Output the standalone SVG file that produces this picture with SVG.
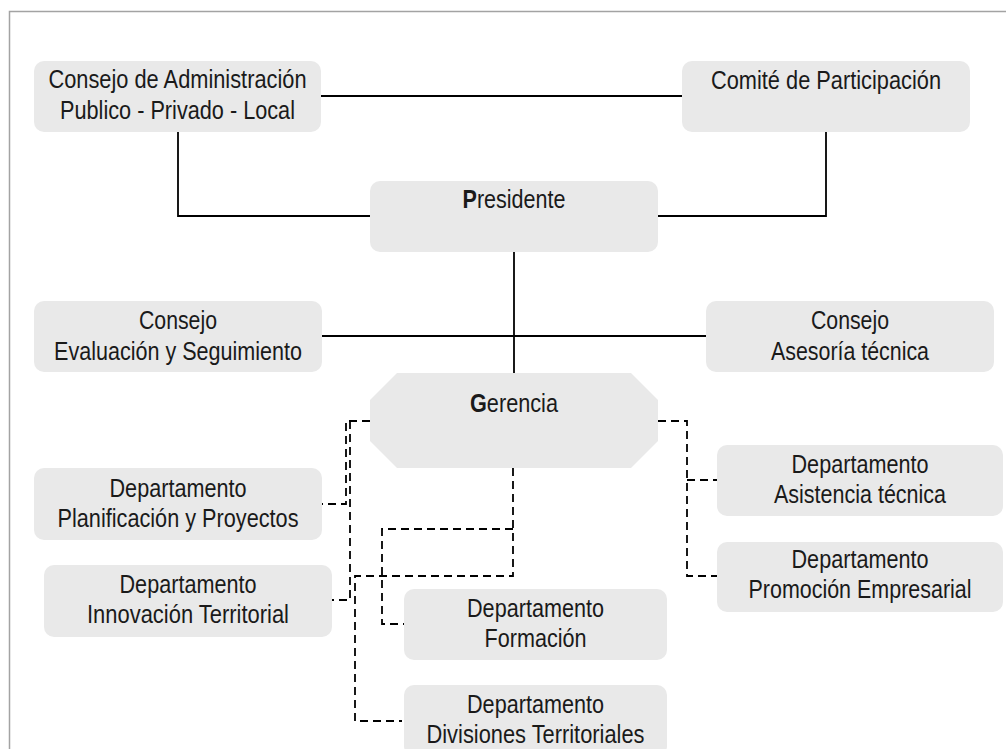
<svg xmlns="http://www.w3.org/2000/svg" width="1006" height="749" viewBox="0 0 1006 749">
<style>
.box{fill:#e9e9e9;}
.t{font-family:"Liberation Sans Narrow","Arial Narrow","Liberation Sans",Arial,sans-serif;font-size:25px;fill:#1a1a1a;text-anchor:middle;}
.b{font-weight:bold;}
.solid{fill:none;stroke:#000;stroke-width:1.8;}
.dash{fill:none;stroke:#000;stroke-width:1.8;stroke-dasharray:8,5;}
</style>
<rect width="1006" height="749" fill="#fff"/>
<path d="M9.5,749 V11.5 H1006" fill="none" stroke="#a3a3a3" stroke-width="1.5"/>
<g id="connectors">
<path class="solid" d="M321,96 H682"/>
<path class="solid" d="M178,132 V216 H370"/>
<path class="solid" d="M826,132 V216 H658"/>
<path class="solid" d="M514,252 V373"/>
<path class="solid" d="M322,336 H706"/>
<path class="dash" d="M370,421 H346 V504 H322"/>
<path class="dash" d="M350,421 V600 H332"/>
<path class="dash" d="M513,468 V576 H355 V721 H402"/>
<path class="dash" d="M513,529 H382 V624 H404"/>
<path class="dash" d="M658,421 H687 V576 H717"/>
<path class="dash" d="M687,480 H717"/>
</g>
<g id="consejo-admin">
<rect class="box" x="34" y="61" width="287" height="71" rx="10"/>
<text class="t" x="177.5" y="88" textLength="258" lengthAdjust="spacingAndGlyphs">Consejo de Administración</text>
<text class="t" x="177.5" y="119" textLength="235" lengthAdjust="spacingAndGlyphs">Publico - Privado - Local</text>
</g>
<g id="comite">
<rect class="box" x="682" y="61" width="288" height="71" rx="10"/>
<text class="t" x="826" y="89" textLength="230" lengthAdjust="spacingAndGlyphs">Comité de Participación</text>
</g>
<g id="presidente">
<rect class="box" x="370" y="181" width="288" height="71" rx="10"/>
<text class="t" x="514" y="208" textLength="103" lengthAdjust="spacingAndGlyphs"><tspan class="b">P</tspan>residente</text>
</g>
<g id="consejo-evaluacion">
<rect class="box" x="34" y="301" width="288" height="71" rx="10"/>
<text class="t" x="178" y="329" textLength="78" lengthAdjust="spacingAndGlyphs">Consejo</text>
<text class="t" x="178" y="360" textLength="248" lengthAdjust="spacingAndGlyphs">Evaluación y Seguimiento</text>
</g>
<g id="consejo-asesoria">
<rect class="box" x="706" y="301" width="288" height="71" rx="10"/>
<text class="t" x="850" y="329" textLength="78" lengthAdjust="spacingAndGlyphs">Consejo</text>
<text class="t" x="850" y="360" textLength="158" lengthAdjust="spacingAndGlyphs">Asesoría técnica</text>
</g>
<g id="gerencia">
<polygon class="box" points="397,373 631,373 658,400 658,441 631,468 397,468 370,441 370,400"/>
<text class="t" x="514" y="412" textLength="88" lengthAdjust="spacingAndGlyphs"><tspan class="b">G</tspan>erencia</text>
</g>
<g id="dep-planificacion">
<rect class="box" x="34" y="468" width="288" height="72" rx="10"/>
<text class="t" x="178" y="497" textLength="137" lengthAdjust="spacingAndGlyphs">Departamento</text>
<text class="t" x="178" y="527" textLength="241" lengthAdjust="spacingAndGlyphs">Planificación y Proyectos</text>
</g>
<g id="dep-innovacion">
<rect class="box" x="44" y="565" width="288" height="72" rx="10"/>
<text class="t" x="188" y="593" textLength="137" lengthAdjust="spacingAndGlyphs">Departamento</text>
<text class="t" x="188" y="623" textLength="202" lengthAdjust="spacingAndGlyphs">Innovación Territorial</text>
</g>
<g id="dep-formacion">
<rect class="box" x="404" y="589" width="263" height="71" rx="10"/>
<text class="t" x="535.5" y="617" textLength="137" lengthAdjust="spacingAndGlyphs">Departamento</text>
<text class="t" x="535.5" y="647" textLength="102" lengthAdjust="spacingAndGlyphs">Formación</text>
</g>
<g id="dep-divisiones">
<rect class="box" x="404" y="685" width="263" height="71" rx="10"/>
<text class="t" x="535.5" y="713" textLength="137" lengthAdjust="spacingAndGlyphs">Departamento</text>
<text class="t" x="535.5" y="743" textLength="218" lengthAdjust="spacingAndGlyphs">Divisiones Territoriales</text>
</g>
<g id="dep-asistencia">
<rect class="box" x="717" y="445" width="286" height="71" rx="10"/>
<text class="t" x="860" y="473" textLength="137" lengthAdjust="spacingAndGlyphs">Departamento</text>
<text class="t" x="860" y="503" textLength="172" lengthAdjust="spacingAndGlyphs">Asistencia técnica</text>
</g>
<g id="dep-promocion">
<rect class="box" x="717" y="542" width="286" height="70" rx="10"/>
<text class="t" x="860" y="568" textLength="137" lengthAdjust="spacingAndGlyphs">Departamento</text>
<text class="t" x="860" y="598" textLength="223" lengthAdjust="spacingAndGlyphs">Promoción Empresarial</text>
</g>
</svg>
